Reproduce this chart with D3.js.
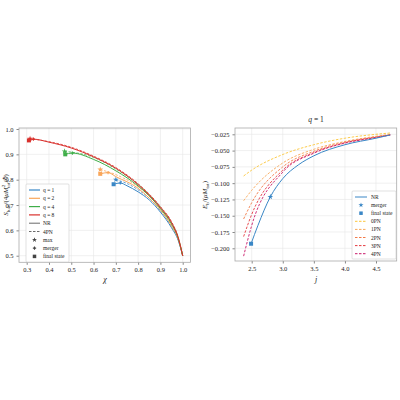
<!DOCTYPE html><html><head><meta charset="utf-8">
<script src="https://cdn.jsdelivr.net/npm/d3@7"></script>
<style>body{margin:0;background:#fff}text{font-family:"Liberation Serif",serif;fill:#222}</style></head><body>
<svg id="c" width="400" height="400"></svg>
<script>
// ---- Left panel data ----
const qLabels=["q = 1","q = 2","q = 4","q = 8"];
const qColors=["#3a87c6","#f9a65a","#3fae49","#d9302c"];
const leftXTicks=[0.3,0.4,0.5,0.6,0.7,0.8,0.9,1.0];
const leftYTicks=[0.5,0.6,0.7,0.8,0.9,1.0];
const nrChi=[[0.69,0.72,0.75,0.8,0.85,0.9,0.95,0.98,1.0],[0.63,0.665,0.7,0.8,0.85,0.9,0.95,0.98,1.0],[0.47,0.505,0.6,0.7,0.8,0.85,0.9,0.95,0.98,1.0],[0.31,0.33,0.4,0.5,0.6,0.7,0.8,0.9,0.95,0.98,1.0]];
const nrS=[[0.782,0.787,0.776,0.752,0.72,0.672,0.61,0.56,0.5],[0.823,0.828,0.812,0.766,0.727,0.68,0.617,0.565,0.5],[0.9,0.905,0.88,0.835,0.775,0.736,0.686,0.625,0.568,0.5],[0.955,0.96,0.948,0.925,0.89,0.845,0.78,0.69,0.63,0.57,0.5]];
const pnChi=[[0.7,0.75,0.8,0.85,0.9,0.95,0.98,1.0],[0.63,0.7,0.8,0.85,0.9,0.95,0.98,1.0],[0.47,0.6,0.7,0.8,0.85,0.9,0.95,0.98,1.0],[0.31,0.4,0.5,0.6,0.7,0.8,0.9,0.95,0.98,1.0]];
const pnS=[[0.8,0.785,0.76,0.727,0.678,0.615,0.563,0.5],[0.84,0.82,0.772,0.735,0.686,0.622,0.568,0.5],[0.912,0.888,0.842,0.782,0.742,0.692,0.63,0.572,0.5],[0.962,0.95,0.928,0.893,0.848,0.784,0.694,0.634,0.573,0.5]];
const maxPts=[[0.70,0.80],[0.63,0.84],[0.47,0.912],[0.315,0.962]];
const mergerPts=[[0.72,0.787],[0.665,0.828],[0.505,0.905],[0.33,0.96]];
const finalPts=[[0.69,0.782],[0.63,0.823],[0.473,0.9],[0.31,0.955]];
// ---- Right panel data ----
const pnOrders=["0PN","1PN","2PN","3PN","4PN"];
const pnColors=["#fcc63a","#f8a85a","#f27a48","#e53a3f","#c91a6a"];
const jGrid=[2.37,2.5,3.0,3.5,4.0,4.5,4.73];
const ePN=[[-0.089,-0.08,-0.056,-0.041,-0.031,-0.025,-0.023],[-0.127,-0.111,-0.069,-0.048,-0.036,-0.028,-0.025],[-0.155,-0.13,-0.075,-0.051,-0.037,-0.029,-0.026],[-0.182,-0.148,-0.08,-0.053,-0.038,-0.0295,-0.026],[-0.212,-0.165,-0.083,-0.054,-0.0385,-0.03,-0.026]];
const nrJ=[2.49,2.6,2.8,3.0,3.25,3.5,4.0,4.5,4.73];
const nrE=[-0.193,-0.165,-0.121,-0.093,-0.072,-0.058,-0.041,-0.031,-0.026];
const mergerJE=[2.8,-0.121];
const finalJE=[2.49,-0.193];
const rightXTicks=[2.5,3.0,3.5,4.0,4.5];
const rightYTicks=[-0.2,-0.175,-0.15,-0.125,-0.1,-0.075,-0.05,-0.025];

const svg=d3.select("#c");
function frame(g,x,y,xt,yt,fx,fy){
  const [x0,x1]=x.range(),[y0,y1]=y.range();
  g.append("g").selectAll("line").data(xt).join("line").attr("x1",d=>x(d)).attr("x2",d=>x(d)).attr("y1",y0).attr("y2",y1).attr("stroke","#e6e6e6").attr("stroke-width",0.6);
  g.append("g").selectAll("line").data(yt).join("line").attr("y1",d=>y(d)).attr("y2",d=>y(d)).attr("x1",x0).attr("x2",x1).attr("stroke","#e6e6e6").attr("stroke-width",0.6);
  const ax=g.append("g").attr("transform",`translate(0,${y0})`).call(d3.axisBottom(x).tickValues(xt).tickFormat(fx).tickSize(2.5));
  const ay=g.append("g").attr("transform",`translate(${x0},0)`).call(d3.axisLeft(y).tickValues(yt).tickFormat(fy).tickSize(2.5));
  [ax,ay].forEach(a=>{a.select(".domain").remove();a.selectAll("text").style("font-size","6.5px").style("font-family","Liberation Serif");a.selectAll("line").attr("stroke","#888");});
  g.append("rect").attr("x",x0).attr("y",y1).attr("width",x1-x0).attr("height",y0-y1).attr("fill","none").attr("stroke","#aaa").attr("stroke-width",0.8);
}
function star(g,x,y,c,s){g.append("path").attr("d",d3.symbol(d3.symbolStar,s)()).attr("transform",`translate(${x},${y})`).attr("fill",c);}
function plus(g,x,y,c){g.append("path").attr("d",d3.symbol(d3.symbolCross,6)()).attr("transform",`translate(${x},${y})`).attr("fill",c);}
function sq(g,x,y,c,s){g.append("rect").attr("x",x-s/2).attr("y",y-s/2).attr("width",s).attr("height",s).attr("fill",c);}

// Left
const L=svg.append("g");
const xL=d3.scaleLinear().domain([0.3,1.0]).range([26.7,182.7]);
const yL=d3.scaleLinear().domain([0.5,1.0]).range([255.7,129]);
xL.range([26.7,182.7]);
const xLf=d3.scaleLinear().domain([0.2655,1.0345]).range([19.0,190.4]);
frame(L,d3.scaleLinear().domain(xLf.domain()).range(xLf.range()),d3.scaleLinear().domain([0.474,1.004]).range([262.3,128]),leftXTicks,leftYTicks,d3.format(".1f"),d3.format(".1f"));
const line=(xs,ys,x,y)=>d3.line().curve(d3.curveMonotoneX)(xs.map((v,i)=>[x(v),y(ys[i])]));
qColors.forEach((c,i)=>{
  L.append("path").attr("d",line(pnChi[i],pnS[i],xL,yL)).attr("fill","none").attr("stroke",c).attr("stroke-width",0.8).attr("stroke-dasharray","2.5,1.5");
  L.append("path").attr("d",line(nrChi[i],nrS[i],xL,yL)).attr("fill","none").attr("stroke",c).attr("stroke-width",1);
  star(L,xL(maxPts[i][0]),yL(maxPts[i][1]),c,10);
  plus(L,xL(mergerPts[i][0]),yL(mergerPts[i][1]),c);
  sq(L,xL(finalPts[i][0]),yL(finalPts[i][1]),c,4);
});
L.append("text").attr("x",105).attr("y",282).attr("text-anchor","middle").style("font-size","8px").style("font-style","italic").text("χ");
L.append("text").attr("transform","translate(8,195) rotate(-90)").attr("text-anchor","middle").style("font-size","7px").html('<tspan font-style="italic">S</tspan><tspan font-size="5px" dy="2">lum</tspan><tspan dy="-2">/(4</tspan><tspan font-style="italic">μM</tspan><tspan font-size="5px" dy="-3">2</tspan><tspan font-size="5px" dx="-3" dy="5">tot</tspan><tspan dy="-2">/</tspan><tspan font-style="italic">ℏ</tspan><tspan>)</tspan>');
// left legend
const lg=L.append("g").attr("transform","translate(26,184)");
lg.append("rect").attr("width",43).attr("height",78).attr("fill","#fff").attr("stroke","#ccc").attr("stroke-width",0.6).attr("rx",1);
const lItems=qLabels.map((t,i)=>({t,c:qColors[i],k:"line"})).concat([{t:"NR",c:"#444",k:"line"},{t:"4PN",c:"#444",k:"dash"},{t:"max",c:"#444",k:"star"},{t:"merger",c:"#444",k:"plus"},{t:"final state",c:"#444",k:"sq"}]);
lItems.forEach((d,i)=>{const yy=6+i*8.3;
  if(d.k=="line"||d.k=="dash")lg.append("line").attr("x1",3).attr("x2",14).attr("y1",yy).attr("y2",yy).attr("stroke",d.c).attr("stroke-width",i<4?1.2:0.8).attr("stroke-dasharray",d.k=="dash"?"2.5,1.5":null);
  if(d.k=="star")star(lg,8.5,yy,d.c,8);if(d.k=="plus")plus(lg,8.5,yy,d.c);if(d.k=="sq")sq(lg,8.5,yy,d.c,3.5);
  lg.append("text").attr("x",17).attr("y",yy+2).style("font-size","5.5px").text(d.t);});

// Right
const R=svg.append("g");
const xR=d3.scaleLinear().domain([2.5,4.5]).range([251.7,376]);
const yR=d3.scaleLinear().domain([-0.2,-0.025]).range([248.3,134.3]);
frame(R,d3.scaleLinear().domain([xR.invert(235),xR.invert(396.7)]).range([235,396.7]),d3.scaleLinear().domain([yR.invert(261),yR.invert(128)]).range([261,128]),rightXTicks,rightYTicks,d3.format(".1f"),d=>d3.format(".3f")(d).replace("-","−"));
pnColors.forEach((c,i)=>R.append("path").attr("d",line(jGrid,ePN[i],xR,yR)).attr("fill","none").attr("stroke",c).attr("stroke-width",0.9).attr("stroke-dasharray","2.5,1.5"));
R.append("path").attr("d",line(nrJ,nrE,xR,yR)).attr("fill","none").attr("stroke","#3a87c6").attr("stroke-width",1);
star(R,xR(mergerJE[0]),yR(mergerJE[1]),"#3a87c6",10);
sq(R,xR(finalJE[0]),yR(finalJE[1]),"#3a87c6",4);
R.append("text").attr("x",316).attr("y",122).attr("text-anchor","middle").style("font-size","7.5px").html('<tspan font-style="italic">q</tspan> = 1');
R.append("text").attr("x",316).attr("y",282).attr("text-anchor","middle").style("font-size","8px").style("font-style","italic").text("j");
R.append("text").attr("transform","translate(207,195) rotate(-90)").attr("text-anchor","middle").style("font-size","7px").html('<tspan font-style="italic">E</tspan><tspan font-size="5px" dy="2">b</tspan><tspan dy="-2">/(</tspan><tspan font-style="italic">μM</tspan><tspan font-size="5px" dy="2">tot</tspan><tspan dy="-2">)</tspan>');
const rg=R.append("g").attr("transform","translate(352,191)");
rg.append("rect").attr("width",44).attr("height",68).attr("fill","#fff").attr("stroke","#ccc").attr("stroke-width",0.6).attr("rx",1);
const rItems=[{t:"NR",c:"#3a87c6",k:"line"},{t:"merger",c:"#3a87c6",k:"star"},{t:"final state",c:"#3a87c6",k:"sq"}].concat(pnOrders.map((t,i)=>({t,c:pnColors[i],k:"dash"})));
rItems.forEach((d,i)=>{const yy=6+i*8.1;
  if(d.k=="line"||d.k=="dash")rg.append("line").attr("x1",3).attr("x2",15).attr("y1",yy).attr("y2",yy).attr("stroke",d.c).attr("stroke-width",1).attr("stroke-dasharray",d.k=="dash"?"2.5,1.5":null);
  if(d.k=="star")star(rg,9,yy,d.c,8);if(d.k=="sq")sq(rg,9,yy,d.c,3.5);
  rg.append("text").attr("x",19).attr("y",yy+2).style("font-size","5.5px").text(d.t);});
</script></body></html>
